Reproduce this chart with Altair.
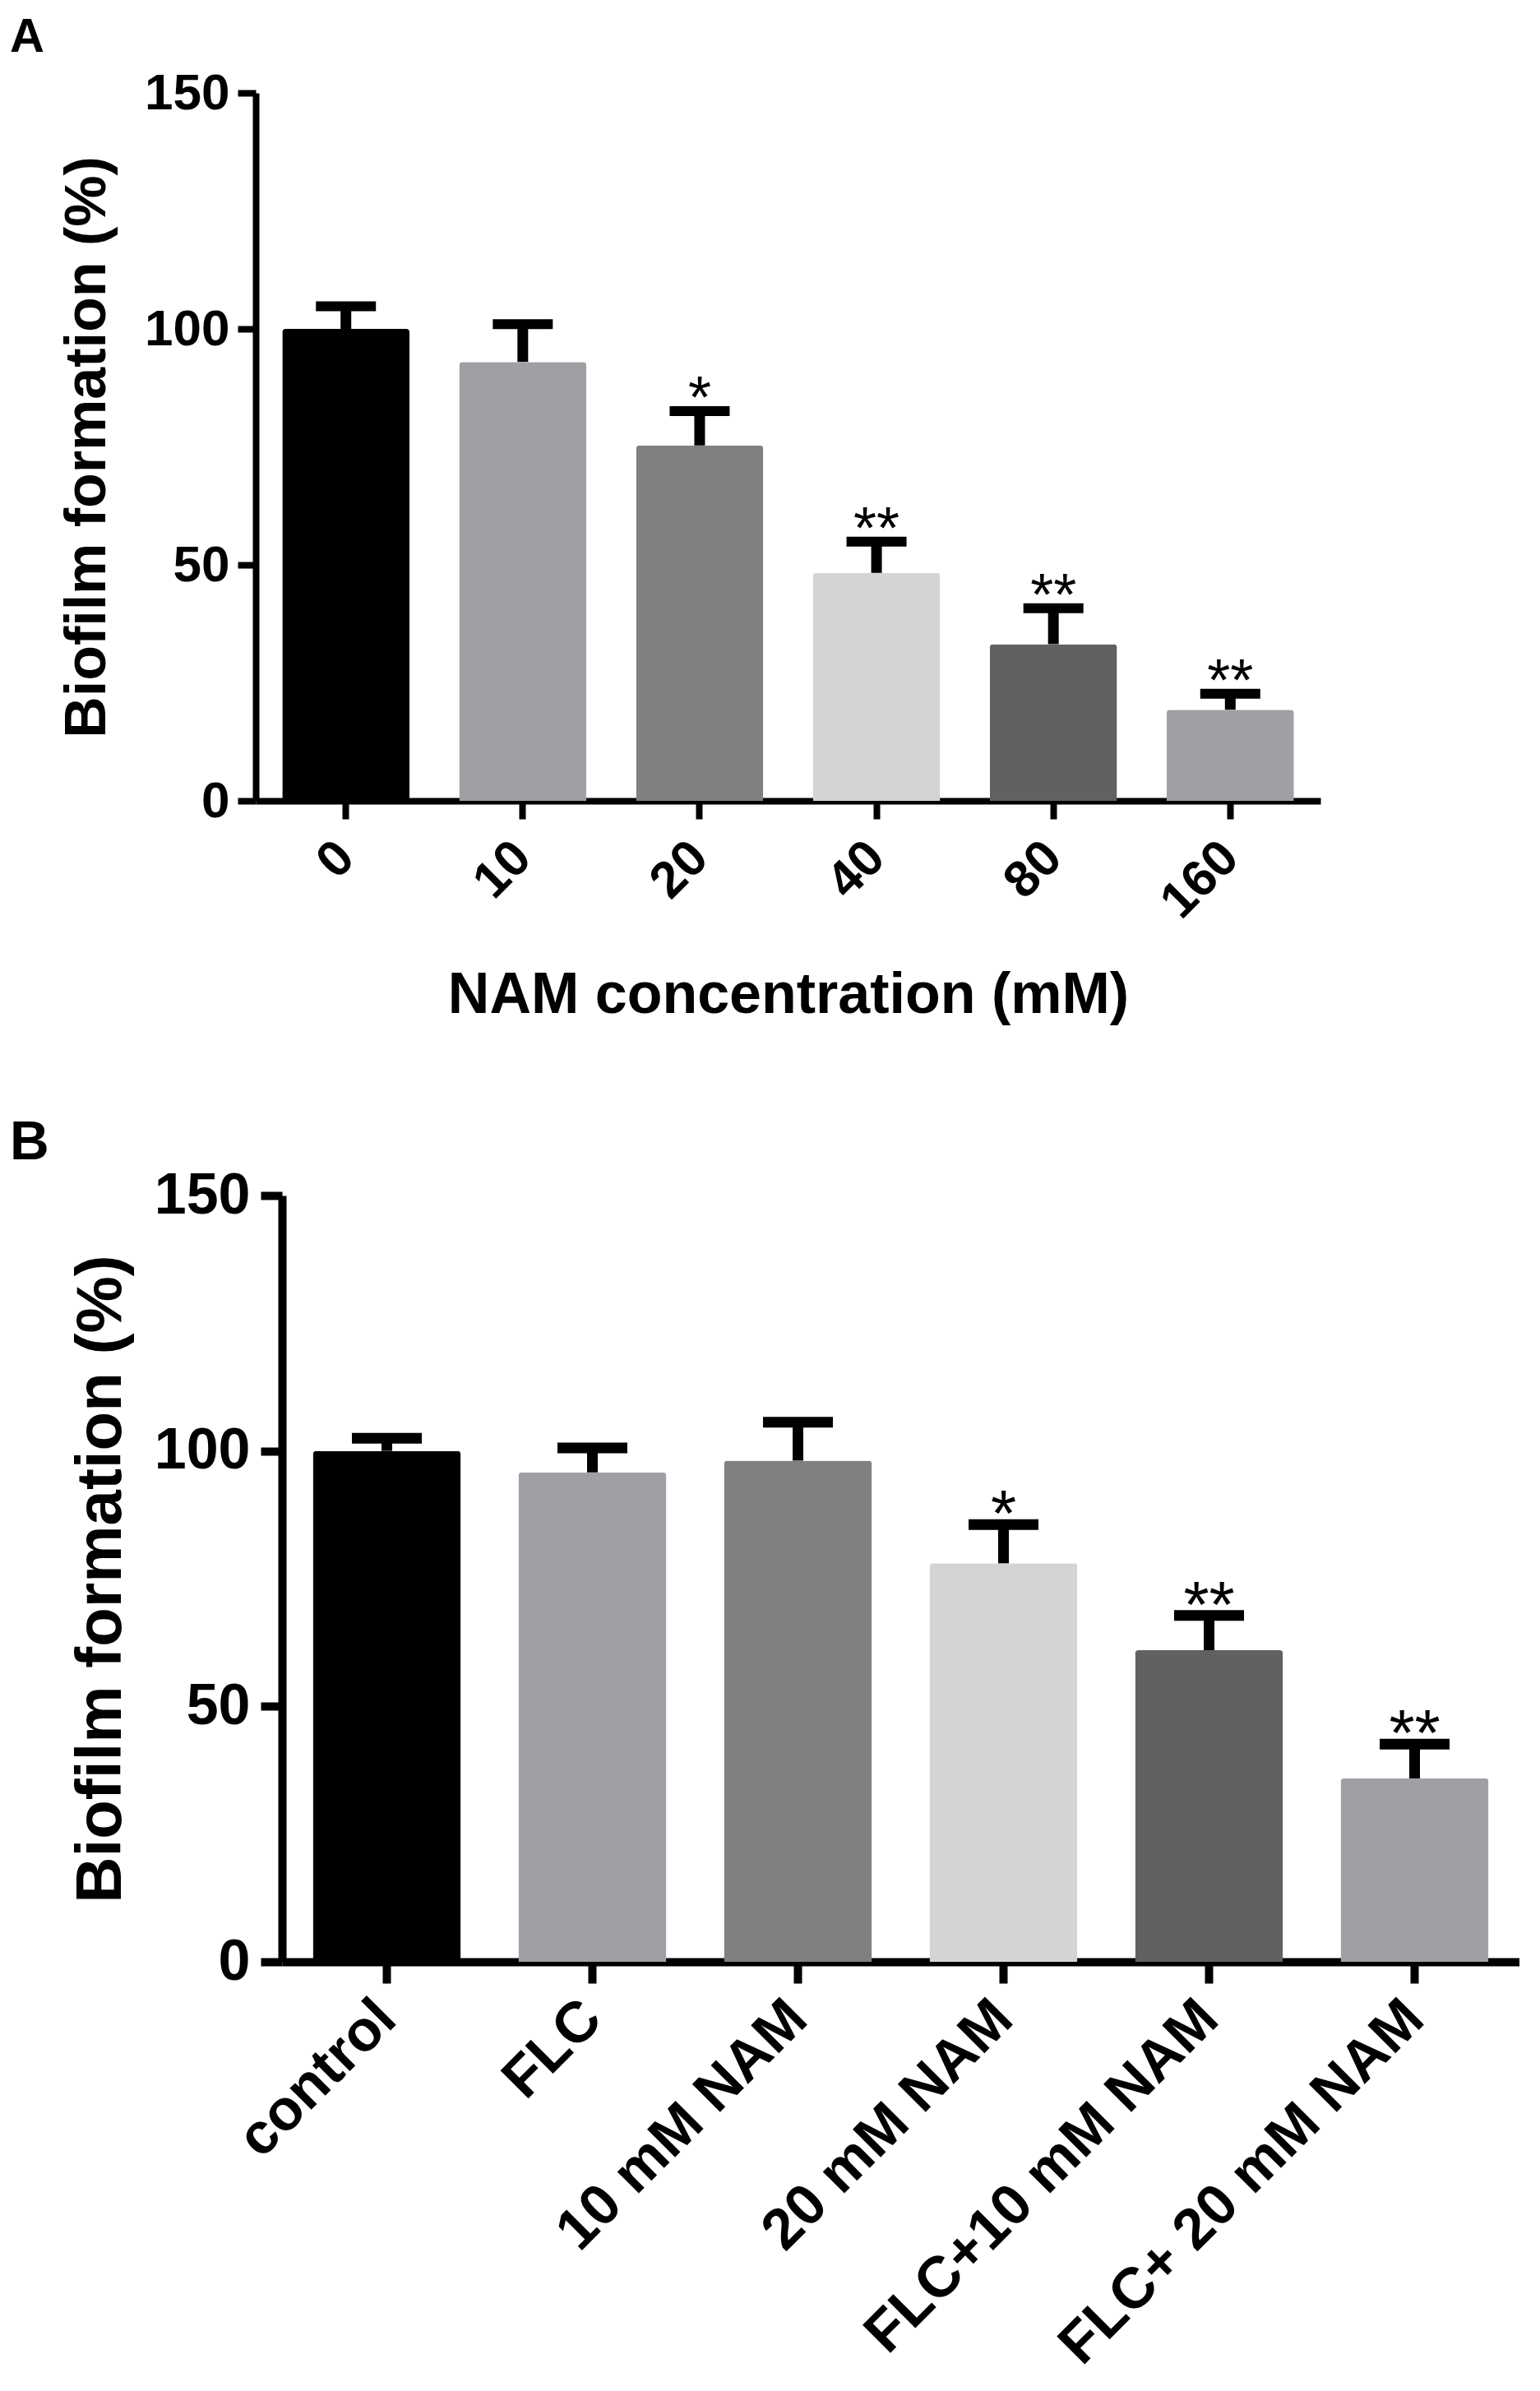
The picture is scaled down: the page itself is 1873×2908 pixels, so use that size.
import altair as alt
import pandas as pd

# ---- data ----
a_groups = ["0", "10", "20", "40", "80", "160"]
a_mean = [100.0, 93.0, 75.3, 48.3, 33.2, 19.3]
a_err = [4.8, 8.0, 7.3, 6.6, 7.6, 3.4]
a_sig = ["", "", "*", "**", "**", "**"]

b_groups = ["control", "FLC", "10 mM NAM", "20 mM NAM", "FLC+10 mM NAM", "FLC+ 20 mM NAM"]
b_mean = [100.0, 95.8, 98.1, 78.0, 61.0, 35.9]
b_err = [2.5, 4.8, 7.5, 7.6, 6.8, 6.7]
b_sig = ["", "", "", "*", "**", "**"]

bar_colors = ["#000000", "#a0a0a4", "#808080", "#d4d4d4", "#616161", "#a0a0a4"]

FONT = "Liberation Sans"


def panel(letter, groups, means, errs, sigs, xtitle, W, H, fs_tick, fs_title,
          fs_letter, axis_w, tick_len, cap_w, cap_t, stem_w, star_fs, star_dy,
          letter_dx, letter_offset, y_label_pad, y_title_pad, x_label_pad,
          x_title_pad):
    df = pd.DataFrame({
        "group": groups,
        "mean": means,
        "upper": [m + e for m, e in zip(means, errs)],
        "sig": sigs,
    })
    xscale = alt.Scale(paddingInner=0.28, paddingOuter=0.15)
    xaxis_kw = dict(
        labelAngle=-45, labelAlign="right", labelBaseline="middle",
        labelFontSize=fs_tick, labelFont=FONT, labelFontWeight="bold",
        labelColor="black", labelPadding=x_label_pad, labelLimit=1000,
        domainColor="black", domainWidth=axis_w, tickColor="black",
        tickWidth=axis_w, tickSize=tick_len, titleFontSize=fs_title,
        titleFont=FONT, titleFontWeight="bold", titleColor="black",
        titlePadding=x_title_pad,
    )
    if xtitle:
        xaxis = alt.Axis(title=xtitle, **xaxis_kw)
    else:
        xaxis = alt.Axis(title=None, **xaxis_kw)
    x = alt.X("group:N", sort=groups, scale=xscale, axis=xaxis)
    yscale = alt.Scale(domain=[0, 150], nice=False)
    yaxis = alt.Axis(
        title="Biofilm formation (%)", values=[0, 50, 100, 150], grid=False,
        labelFontSize=fs_tick, labelFont=FONT, labelFontWeight="bold",
        labelColor="black", labelPadding=y_label_pad,
        domainColor="black", domainWidth=axis_w, tickColor="black",
        tickWidth=axis_w, tickSize=tick_len, titleFontSize=fs_title,
        titleFont=FONT, titleFontWeight="bold", titleColor="black",
        titlePadding=y_title_pad,
    )
    base = alt.Chart(df)
    bars = base.mark_bar(cornerRadiusTopLeft=4, cornerRadiusTopRight=4).encode(
        x=x,
        y=alt.Y("mean:Q", scale=yscale, axis=yaxis),
        color=alt.Color("group:N", scale=alt.Scale(domain=groups, range=bar_colors),
                        legend=None),
    )
    stems = base.mark_rule(color="black", strokeWidth=stem_w).encode(
        x=alt.X("group:N", sort=groups),
        y="mean:Q",
        y2="upper:Q",
    )
    caps = base.mark_tick(color="black", thickness=cap_t, size=cap_w, opacity=1).encode(
        x=alt.X("group:N", sort=groups),
        y="upper:Q",
    )
    stars = base.mark_text(fontSize=star_fs, font=FONT, baseline="alphabetic",
                           dy=star_dy, color="black").encode(
        x=alt.X("group:N", sort=groups),
        y="upper:Q",
        text="sig:N",
    )
    return alt.layer(bars, stems, caps, stars).properties(
        width=W, height=H,
        title=alt.TitleParams(letter, anchor="start", frame="group", dx=letter_dx,
                              fontSize=fs_letter, font=FONT, fontWeight="bold",
                              color="black", offset=letter_offset),
    )


def spacer():
    # empty 1px view placed left of a panel, so each panel's left edge
    # (its letter) starts at the same place while plot origins differ
    return alt.Chart(pd.DataFrame({"v": [0]})).mark_text(text="").encode(
        x=alt.value(0), y=alt.value(0)
    ).properties(width=1, height=1)


chart_a = panel("A", a_groups, a_mean, a_err, a_sig, "NAM concentration (mM)",
                W=1295, H=861, fs_tick=62, fs_title=70, fs_letter=58, axis_w=8,
                tick_len=22, cap_w=73, cap_t=12, stem_w=13, star_fs=72, star_dy=8,
                letter_dx=-299, letter_offset=7, y_label_pad=10, y_title_pad=33,
                x_label_pad=37, x_title_pad=48)

chart_b = panel("B", b_groups, b_mean, b_err, b_sig, None,
                W=1505, H=932, fs_tick=70, fs_title=78, fs_letter=66, axis_w=10,
                tick_len=26, cap_w=85, cap_t=13, stem_w=13, star_fs=80, star_dy=14,
                letter_dx=-331, letter_offset=-5, y_label_pad=13, y_title_pad=25,
                x_label_pad=32, x_title_pad=10)

chart = alt.vconcat(
    alt.hconcat(spacer(), chart_a, spacing=0),
    alt.hconcat(spacer(), chart_b, spacing=0),
    spacing=111,
).properties(
    padding={"left": 3, "top": 9, "right": 0, "bottom": 0}, background="white"
).configure_view(strokeWidth=0)

chart.save("out.html", embed_options={"renderer": "svg", "actions": False})
